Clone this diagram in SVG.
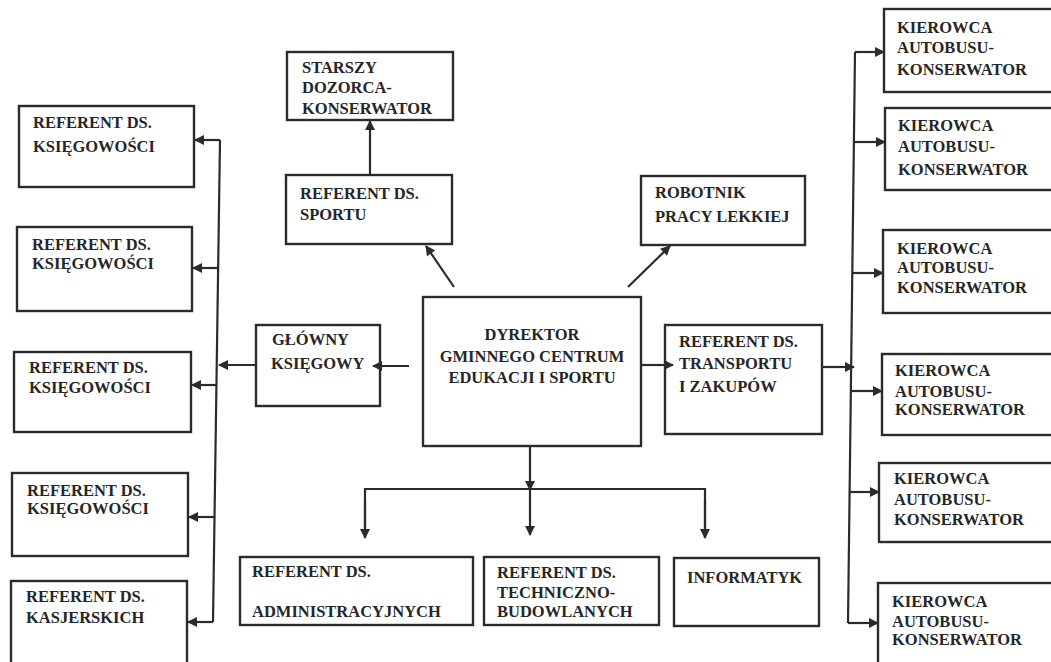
<svg xmlns="http://www.w3.org/2000/svg" width="1051" height="662" viewBox="0 0 1051 662">
<style>
rect.b{fill:#fff;stroke:#2b2b2b;stroke-width:2.4}
text{font-family:"Liberation Serif","Times New Roman",serif;font-size:16.5px;font-weight:bold;fill:#262626}
.c line,.c path{stroke:#2b2b2b;stroke-width:2.2;fill:none}
.m{text-anchor:middle}
</style>
<defs>
<marker id="ah" viewBox="0 0 10 10" refX="9" refY="5" markerWidth="12" markerHeight="10" markerUnits="userSpaceOnUse" orient="auto">
<path d="M0,0 L10,5 L0,10 z" fill="#2b2b2b"/>
</marker>
</defs>
<rect width="1051" height="662" fill="#fff"/>

<g id="starszy"><rect class="b" x="287" y="52" width="166" height="68"/><text x="302" y="73">STARSZY</text><text x="302" y="93">DOZORCA-</text><text x="302" y="114">KONSERWATOR</text></g>
<g id="ref-sportu"><rect class="b" x="286" y="175" width="166" height="69"/><text x="300" y="199">REFERENT DS.</text><text x="300" y="220">SPORTU</text></g>
<g id="robotnik"><rect class="b" x="641" y="176" width="164" height="69"/><text x="655" y="198">ROBOTNIK</text><text x="655" y="222">PRACY LEKKIEJ</text></g>
<g id="dyrektor"><rect class="b" x="423" y="297" width="218" height="149"/><text class="m" x="532" y="340">DYREKTOR</text><text class="m" x="532" y="362">GMINNEGO CENTRUM</text><text class="m" x="532" y="383">EDUKACJI I SPORTU</text></g>
<g id="glowny"><rect class="b" x="256" y="325" width="124" height="81"/><text x="272" y="345">GŁÓWNY</text><text x="271" y="369">KSIĘGOWY</text></g>
<g id="transport"><rect class="b" x="665" y="325" width="157" height="109"/><text x="679" y="347">REFERENT DS.</text><text x="679" y="369">TRANSPORTU</text><text x="679" y="392">I ZAKUPÓW</text></g>

<g id="ksieg1"><rect class="b" x="19" y="106" width="175" height="81"/><text x="33" y="128">REFERENT DS.</text><text x="33" y="152">KSIĘGOWOŚCI</text></g>
<g id="ksieg2"><rect class="b" x="17" y="227" width="175" height="84"/><text x="32" y="250">REFERENT DS.</text><text x="32" y="269">KSIĘGOWOŚCI</text></g>
<g id="ksieg3"><rect class="b" x="14" y="352" width="177" height="80"/><text x="29" y="373">REFERENT DS.</text><text x="29" y="393">KSIĘGOWOŚCI</text></g>
<g id="ksieg4"><rect class="b" x="12" y="473" width="176" height="83"/><text x="27" y="496">REFERENT DS.</text><text x="27" y="514">KSIĘGOWOŚCI</text></g>
<g id="kasjer"><rect class="b" x="11" y="581" width="176" height="90"/><text x="26" y="602">REFERENT DS.</text><text x="26" y="623">KASJERSKICH</text></g>

<g id="admin"><rect class="b" x="240" y="557" width="233" height="68"/><text x="252" y="577">REFERENT DS.</text><text x="252" y="617">ADMINISTRACYJNYCH</text></g>
<g id="techniczno"><rect class="b" x="484" y="557" width="175" height="68"/><text x="497" y="578">REFERENT DS.</text><text x="497" y="598">TECHNICZNO-</text><text x="497" y="617">BUDOWLANYCH</text></g>
<g id="informatyk"><rect class="b" x="674" y="558" width="145" height="68"/><text x="687" y="583">INFORMATYK</text></g>

<g id="kier1"><rect class="b" x="884" y="9" width="180" height="83"/><text x="897" y="33">KIEROWCA</text><text x="897" y="53">AUTOBUSU-</text><text x="897" y="75">KONSERWATOR</text></g>
<g id="kier2"><rect class="b" x="885" y="108" width="180" height="82"/><text x="898" y="131">KIEROWCA</text><text x="898" y="152">AUTOBUSU-</text><text x="898" y="175">KONSERWATOR</text></g>
<g id="kier3"><rect class="b" x="883" y="230" width="180" height="83"/><text x="897" y="254">KIEROWCA</text><text x="897" y="273">AUTOBUSU-</text><text x="897" y="293">KONSERWATOR</text></g>
<g id="kier4"><rect class="b" x="882" y="354" width="180" height="81"/><text x="895" y="376">KIEROWCA</text><text x="895" y="397">AUTOBUSU-</text><text x="895" y="415">KONSERWATOR</text></g>
<g id="kier5"><rect class="b" x="879" y="463" width="180" height="79"/><text x="894" y="484">KIEROWCA</text><text x="894" y="505">AUTOBUSU-</text><text x="894" y="525">KONSERWATOR</text></g>
<g id="kier6"><rect class="b" x="878" y="583" width="180" height="90"/><text x="892" y="607">KIEROWCA</text><text x="892" y="627">AUTOBUSU-</text><text x="892" y="645">KONSERWATOR</text></g>

<g id="connectors" class="c">
<line x1="370" y1="175" x2="370" y2="121" marker-end="url(#ah)"/>
<line x1="454" y1="287" x2="426" y2="246" marker-end="url(#ah)"/>
<line x1="628" y1="287" x2="670" y2="246" marker-end="url(#ah)"/>
<line x1="409" y1="366" x2="373" y2="366" marker-end="url(#ah)"/>
<line x1="256" y1="365" x2="219" y2="365" marker-end="url(#ah)"/>
<path d="M220,140 L213,622"/>
<line x1="220" y1="140" x2="195" y2="140" marker-end="url(#ah)"/>
<line x1="218" y1="268" x2="193" y2="268" marker-end="url(#ah)"/>
<line x1="217" y1="385" x2="192" y2="385" marker-end="url(#ah)"/>
<line x1="215" y1="517" x2="189" y2="517" marker-end="url(#ah)"/>
<line x1="213" y1="622" x2="188" y2="622" marker-end="url(#ah)"/>
<line x1="641" y1="365" x2="673" y2="365" marker-end="url(#ah)"/>
<line x1="822" y1="367" x2="854" y2="367" marker-end="url(#ah)"/>
<path d="M855,52 L848,623"/>
<line x1="855" y1="52" x2="884" y2="52" marker-end="url(#ah)"/>
<line x1="854" y1="142" x2="885" y2="142" marker-end="url(#ah)"/>
<line x1="852" y1="273" x2="883" y2="273" marker-end="url(#ah)"/>
<line x1="851" y1="391" x2="882" y2="391" marker-end="url(#ah)"/>
<line x1="850" y1="492" x2="879" y2="492" marker-end="url(#ah)"/>
<line x1="848" y1="623" x2="878" y2="623" marker-end="url(#ah)"/>
<line x1="530" y1="446" x2="530" y2="490" marker-end="url(#ah)"/>
<line x1="530" y1="489" x2="530" y2="535" marker-end="url(#ah)"/>
<path d="M365,538 L365,489 L705,489 L705,538"/>
<line x1="365" y1="500" x2="365" y2="538" marker-end="url(#ah)"/>
<line x1="705" y1="500" x2="705" y2="538" marker-end="url(#ah)"/>
</g>
</svg>
